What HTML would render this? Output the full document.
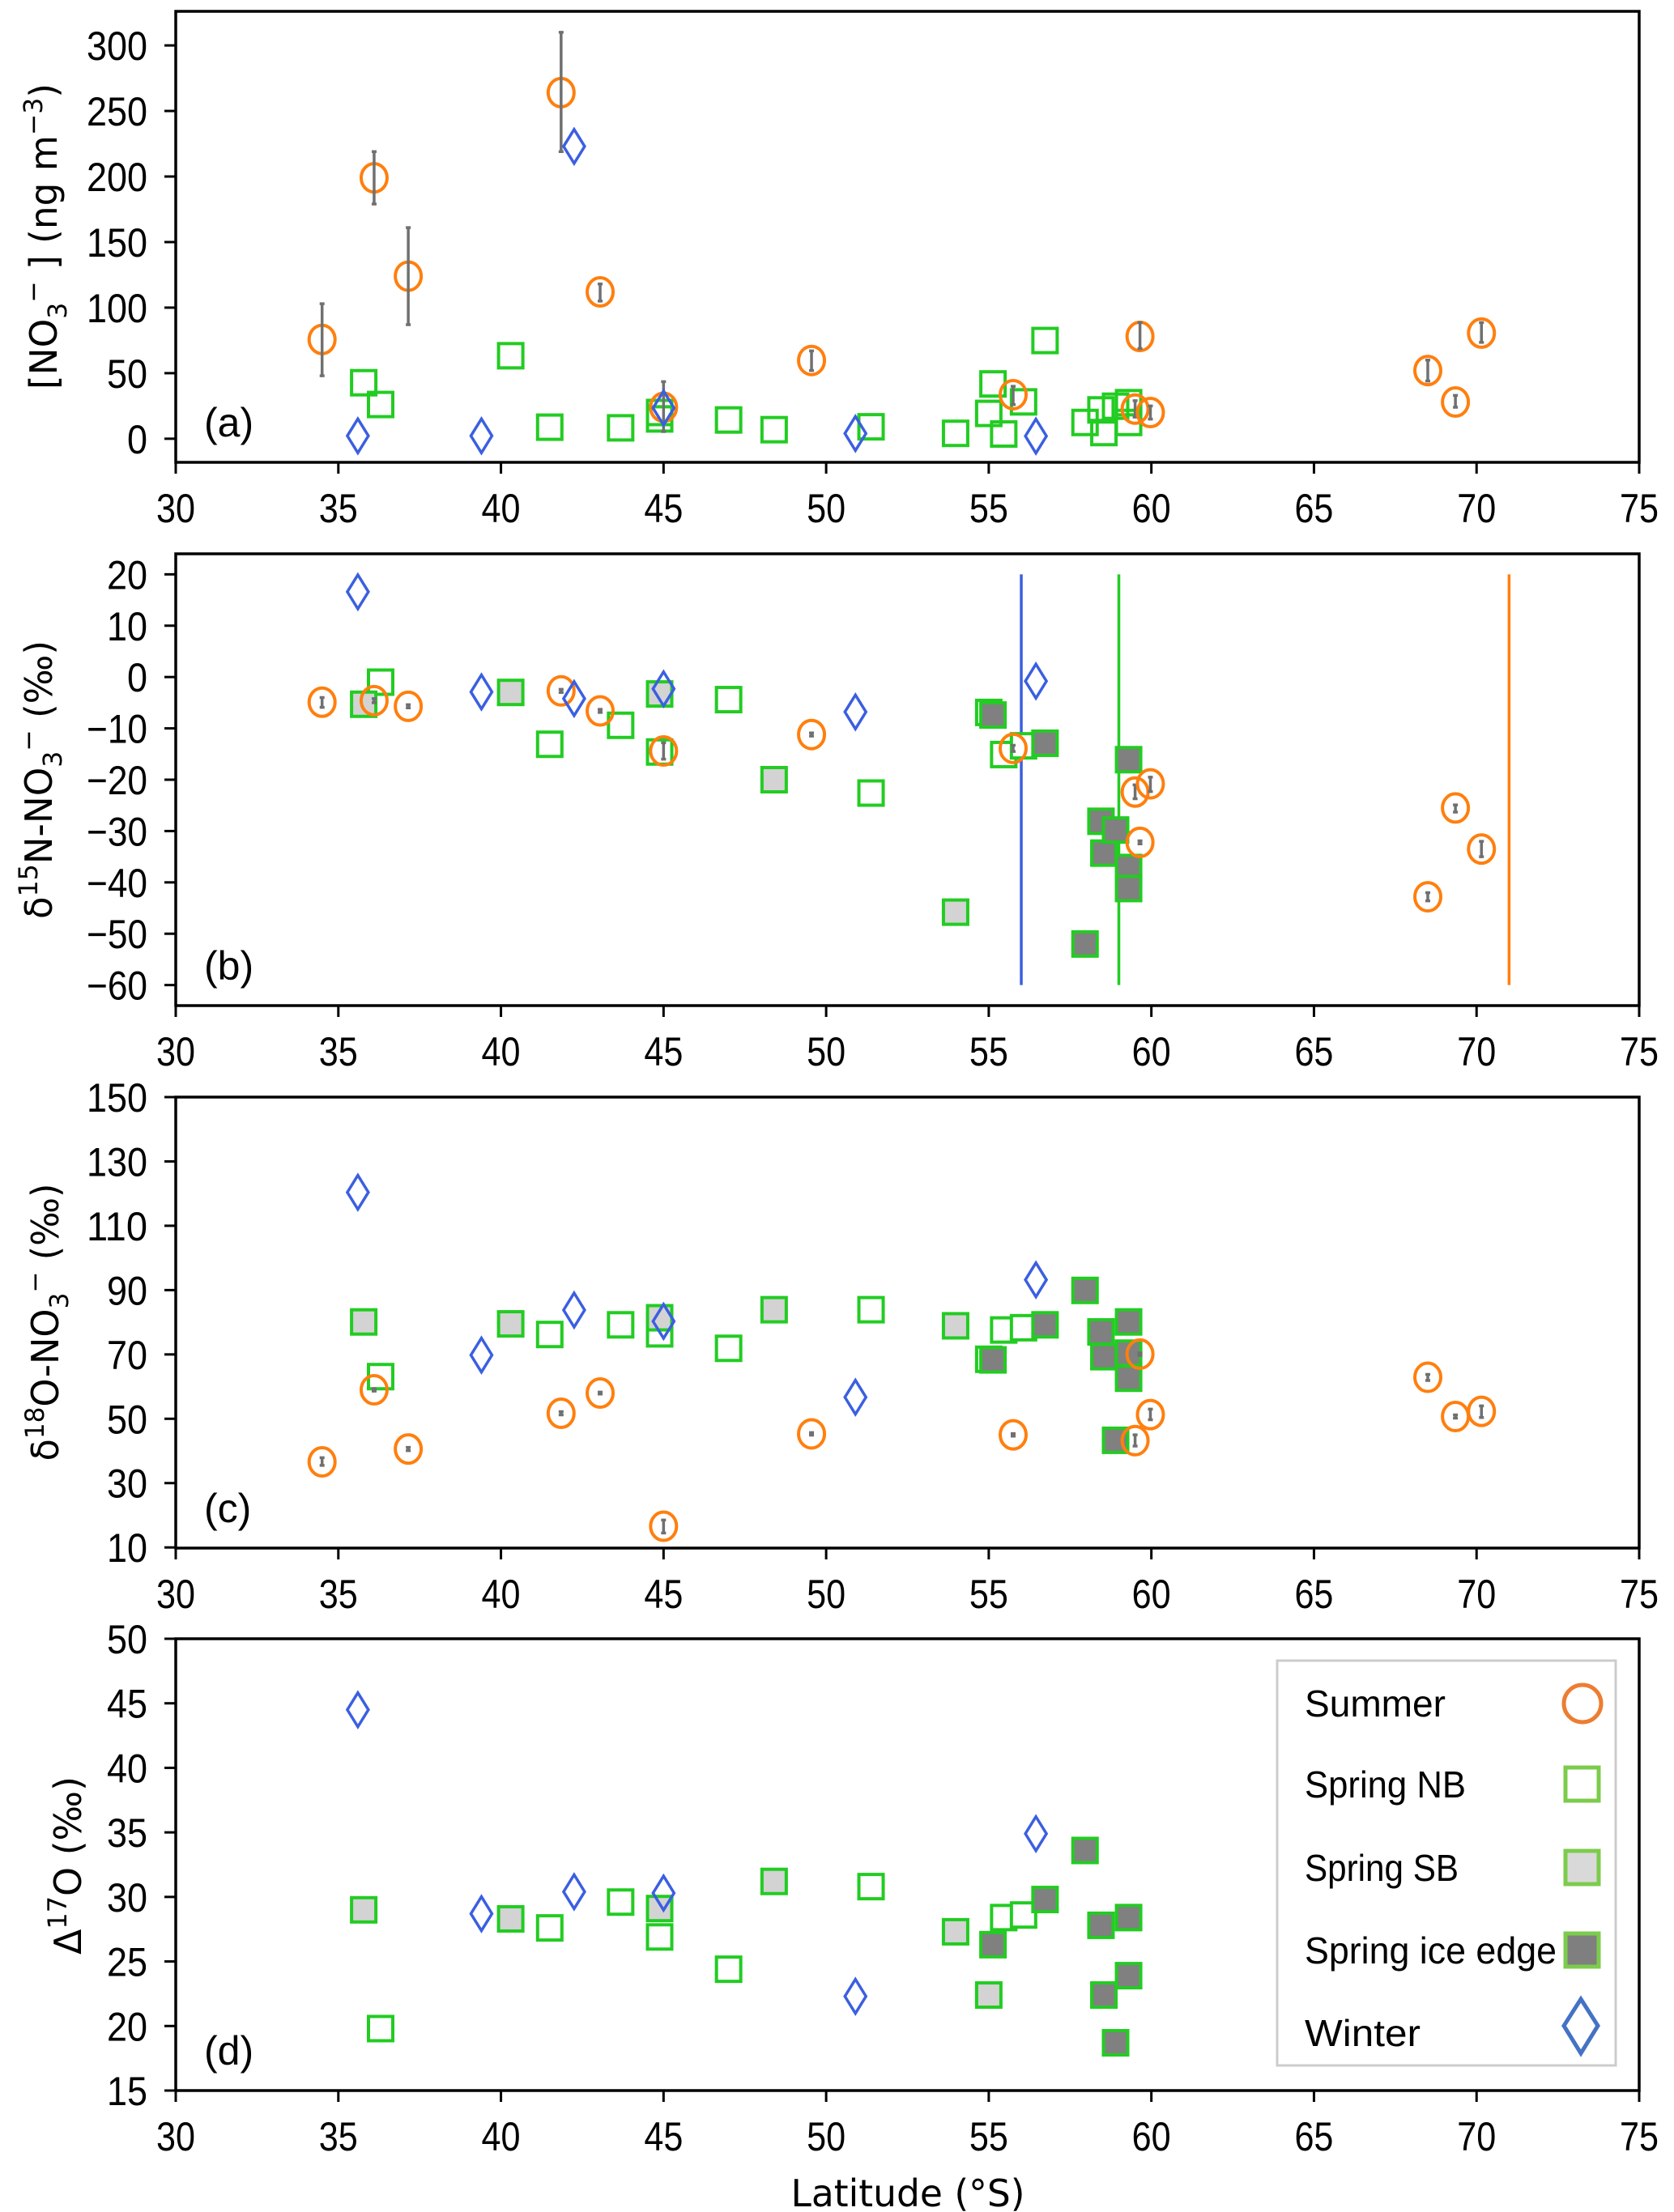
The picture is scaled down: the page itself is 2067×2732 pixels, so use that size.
<!DOCTYPE html>
<html><head><meta charset="utf-8"><style>
html,body{margin:0;padding:0;background:#fff}
svg{display:block}
.tk{font-family:"Liberation Sans Narrow","Liberation Sans",sans-serif;font-size:50px;fill:#000}
.al{font-family:"DejaVu Sans","Liberation Sans",sans-serif;font-size:46px;fill:#000}
.lg{font-family:"Liberation Sans Narrow","Liberation Sans",sans-serif;font-size:46px;fill:#000}
</style></head><body>
<svg id="fig" width="2067" height="2732" viewBox="0 0 2067 2732" xmlns="http://www.w3.org/2000/svg">
<g id="axes-layer"></g>
<text class="al" transform="translate(70,292) rotate(-90)" text-anchor="middle" textLength="378" lengthAdjust="spacingAndGlyphs">[NO<tspan font-size="32" dy="12">3</tspan><tspan font-size="32" dy="-30">−</tspan><tspan dy="18"> ] (ng m</tspan><tspan font-size="32" dy="-18">−3</tspan><tspan dy="18">)</tspan></text>
<text class="al" transform="translate(64,963) rotate(-90)" text-anchor="middle" textLength="344" lengthAdjust="spacingAndGlyphs">δ<tspan font-size="32" dy="-18">15</tspan><tspan dy="18">N-NO</tspan><tspan font-size="32" dy="12">3</tspan><tspan font-size="32" dy="-30">−</tspan><tspan dy="18"> (‰)</tspan></text>
<text class="al" transform="translate(72,1633) rotate(-90)" text-anchor="middle" textLength="343" lengthAdjust="spacingAndGlyphs">δ<tspan font-size="32" dy="-18">18</tspan><tspan dy="18">O-NO</tspan><tspan font-size="32" dy="12">3</tspan><tspan font-size="32" dy="-30">−</tspan><tspan dy="18"> (‰)</tspan></text>
<text class="al" transform="translate(100,2304) rotate(-90)" text-anchor="middle" textLength="220" lengthAdjust="spacingAndGlyphs">Δ<tspan font-size="32" dy="-18">17</tspan><tspan dy="18">O (‰)</tspan></text>
<text class="tk" x="1121" y="2725" text-anchor="middle" style="font-family:'DejaVu Sans','Liberation Sans',sans-serif;font-size:46px" textLength="289" lengthAdjust="spacingAndGlyphs">Latitude (°S)</text>
<g>
<rect x="1577" y="2051" width="418" height="500" fill="#fff" stroke="#cccccc" stroke-width="3"/>
<text class="lg" x="1611" y="2120" textLength="174" lengthAdjust="spacingAndGlyphs">Summer</text>
<ellipse cx="1954" cy="2104" rx="23" ry="23" fill="none" stroke="#ed7d31" stroke-width="5"/>
<text class="lg" x="1611" y="2220" textLength="199" lengthAdjust="spacingAndGlyphs">Spring NB</text>
<rect x="1933" y="2183" width="41" height="41" fill="#fff" stroke="#7ccc4c" stroke-width="5"/>
<text class="lg" x="1611" y="2323" textLength="190" lengthAdjust="spacingAndGlyphs">Spring SB</text>
<rect x="1933" y="2286" width="41" height="41" fill="#d9d9d9" stroke="#7ccc4c" stroke-width="5"/>
<text class="lg" x="1611" y="2425" textLength="311" lengthAdjust="spacingAndGlyphs">Spring ice edge</text>
<rect x="1933" y="2388" width="41" height="41" fill="#7f7f7f" stroke="#7ccc4c" stroke-width="5"/>
<text class="lg" x="1611" y="2527" textLength="143" lengthAdjust="spacingAndGlyphs">Winter</text>
<polygon points="1952,2469 1973,2502 1952,2536 1931,2502" fill="none" stroke="#4472c4" stroke-width="5"/>
</g>
</svg>
<script>
// ---------- data ----------
const xTicks = [30,35,40,45,50,55,60,65,70,75];
const ticksA = [0,50,100,150,200,250,300];
const ticksB = [20,10,0,-10,-20,-30,-40,-50,-60];
const ticksC = [10,30,50,70,90,110,130,150];
const ticksD = [15,20,25,30,35,40,45,50];

const sumLat = [34.5,36.1,37.15,41.85,43.05,45.0,49.55,55.75,59.5,59.65,59.97,68.5,69.35,70.15];
const sumA = [75.7,199,124,264,112,24,59.7,33.6,22.6,78,20,52,28,80.6];
const sumAlo = [48,179,87,219,105,5.5,52,26,16.5,68.8,15,44,24,73.5];
const sumAhi = [103,219,161,310,118,43.5,67,40,29,88.6,25,60,33,88.6];
const sumB = [-4.9,-4.6,-5.7,-2.7,-6.6,-14.4,-11.2,-13.9,-22.4,-32.2,-20.8,-42.8,-25.5,-33.5];
const sumBlo = [-5.9,-5.0,-6.0,-3.0,-6.9,-16,-11.5,-14.5,-23.7,-32.5,-22.3,-43.6,-26.3,-35];
const sumBhi = [-4.0,-4.2,-5.4,-2.4,-6.3,-12.8,-10.9,-13.3,-21,-31.9,-19.5,-42,-24.9,-32];
const sumC = [36.6,59.0,40.6,51.7,58.0,16.6,45.3,45.0,43.2,70.1,51.3,62.9,50.7,52.3];
const sumClo = [35.5,58.6,40.1,51.2,57.7,14.5,44.9,44.6,41.5,69.7,49.7,61.9,50.2,50.4];
const sumChi = [37.9,59.4,41.1,52.2,58.3,18.5,45.7,45.4,45,70.5,53,63.8,51.2,54];

const winLat = [35.6,39.4,42.25,45.0,50.9,56.45];
const winA = [2.2,2.2,223,23.4,4,2];
const winB = [16.6,-2.9,-4.2,-2.3,-6.8,-0.8];
const winC = [120.4,69.8,83.8,80.3,56.7,93.2];
const winD = [44.5,28.7,30.4,30.3,22.3,34.9];

const sprALat = [35.78,36.3,40.3,41.5,43.68,44.88,44.88,47.0,48.4,51.38,53.98,55.13,55.0,55.46,56.07,56.73,57.96,58.45,58.54,58.9,59.3,59.3];
const sprA = [42.7,26.1,63.3,8.8,8.3,15.1,20,14.3,6.9,9.1,4.1,41.8,19.3,3.6,28.1,74.9,12.4,22.0,4.7,24.8,27.5,12.4];

const nbLatB = [36.3,41.5,43.68,44.88,47.0,51.38,55.0,55.46,56.07];
const nbB = [-1.0,-13.1,-9.4,-14.6,-4.4,-22.6,-6.9,-15.1,-13.4];
const sbLatB = [35.78,40.3,44.88,48.4,53.98];
const sbB = [-5.3,-3.0,-3.3,-20.0,-45.8];
const iceLatB = [55.13,56.73,57.96,58.45,58.54,58.9,59.3,59.3,59.3];
const iceB = [-7.4,-12.9,-52.0,-28.1,-34.3,-29.8,-16.1,-37.1,-41.2];

const nbLatC = [36.3,41.5,43.68,44.88,47.0,51.38,55.0,55.46,56.07];
const nbC = [63.1,76.2,79.2,76.4,71.9,83.9,68.5,77.6,78.3];
const sbLatC = [35.78,40.3,44.88,48.4,53.98];
const sbC = [80.1,79.5,81.4,83.9,78.9];
const iceLatC = [55.13,56.73,57.96,58.45,58.54,59.3,59.3,59.3,58.9];
const iceC = [68.3,79.2,89.9,77.0,69.3,80.1,70.4,62.6,43.3];

const nbLatD = [36.3,41.5,43.68,44.88,47.0,51.38,55.46,56.07];
const nbD = [19.8,27.6,29.6,26.9,24.4,30.8,28.4,28.6];
const sbLatD = [35.78,40.3,44.88,48.4,53.98,55.0];
const sbD = [29.0,28.3,29.1,31.2,27.3,22.4];
const iceLatD = [55.13,56.73,57.96,58.45,58.54,58.9,59.3,59.3];
const iceD = [26.3,29.8,33.6,27.8,22.4,18.7,28.4,23.9];

const vlineLat = [56,59,71];
const vlineFrom = 20, vlineTo = -60;

// ---------- drawing ----------
const NS = 'http://www.w3.org/2000/svg';
const layer = document.getElementById('axes-layer');
const X0 = 217, X1 = 2024, XMIN = 30, XMAX = 75;
const xs = v => X0 + (v - XMIN) / (XMAX - XMIN) * (X1 - X0);
const C_OR = '#ff7f0e', C_GR = '#22cc22', C_BL = '#3b5fe0';

function mk(tag, attrs, parent) {
  const e = document.createElementNS(NS, tag);
  for (const k in attrs) e.setAttribute(k, attrs[k]);
  (parent || layer).appendChild(e);
  return e;
}

function panel(id, top, bot, ymin, ymax, yticks, label) {
  const ys = v => bot - (v - ymin) / (ymax - ymin) * (bot - top);
  const g = mk('g', {});
  
  
  const frame = mk('rect', {x: X0, y: top, width: X1 - X0, height: bot - top, fill: 'none', stroke: '#000', 'stroke-width': 3.5}, g);
  
  
  xTicks.forEach(t => {
    const x = xs(t);
    const l = mk('line', {x1: x, x2: x, y1: bot, y2: bot + 14, stroke: '#000', 'stroke-width': 3}, g);
    
    
    const s = String(t);
    const tx = mk('text', {x: x, y: bot + 74, 'text-anchor': 'middle', class: 'tk', textLength: 24 * s.length, lengthAdjust: 'spacingAndGlyphs'}, g);
    tx.textContent = s;
    
    
  });
  yticks.forEach(t => {
    const y = ys(t);
    const l = mk('line', {x1: X0 - 14, x2: X0, y1: y, y2: y, stroke: '#000', 'stroke-width': 3}, g);
    
    
    const s = t < 0 ? '\u2212' + (-t) : String(t);
    const tx = mk('text', {x: X0 - 35, y: y + 18, 'text-anchor': 'end', class: 'tk', textLength: 25 * s.length, lengthAdjust: 'spacingAndGlyphs'}, g);
    tx.textContent = s;
    
    
  });
  const pl = mk('text', {x: 252, y: bot - 32, class: 'tk'}, g);
  pl.textContent = label;
  
  
  return {g, ys};
}

function squares(p, lats, vals, fill, name) {
  lats.forEach((la, i) => {
    const r = mk('rect', {x: xs(la) - 15, y: p.ys(vals[i]) - 15, width: 30, height: 30, fill: fill, stroke: C_GR, 'stroke-width': 4}, p.g);
    
    
  });
}
function diamonds(p, lats, vals) {
  lats.forEach((la, i) => {
    const x = xs(la), y = p.ys(vals[i]);
    const d = mk('polygon', {points: `${x},${y-21} ${x+13},${y} ${x},${y+21} ${x-13},${y}`, fill: 'none', stroke: C_BL, 'stroke-width': 3.5}, p.g);
    
    
  });
}
function circles(p, lats, vals, lo, hi) {
  lats.forEach((la, i) => {
    const x = xs(la), y = p.ys(vals[i]);
    const c = mk('ellipse', {cx: x, cy: y, rx: 16, ry: 17.5, fill: 'none', stroke: C_OR, 'stroke-width': 4}, p.g);
    
    
    const y1 = p.ys(hi[i]), y2 = p.ys(lo[i]);
    const e = mk('path', {d: `M${x},${y1}V${y2}M${x-3},${y1}H${x+3}M${x-3},${y2}H${x+3}`, stroke: '#707070', 'stroke-width': 3.5, fill: 'none'}, p.g);
    
    
  });
}

// panel a
const pa = panel('a', 14, 571, -18, 326, ticksA, '(a)');
squares(pa, sprALat, sprA, 'none', 'spring-point');
circles(pa, sumLat, sumA, sumAlo, sumAhi);
diamonds(pa, winLat, winA);

// panel b
const pb = panel('b', 684, 1242, -64, 24, ticksB, '(b)');
const vcols = [C_BL, C_GR, C_OR];
vlineLat.forEach((la, i) => {
  const l = mk('line', {x1: xs(la), x2: xs(la), y1: pb.ys(vlineFrom), y2: pb.ys(vlineTo), stroke: vcols[i], 'stroke-width': 3.5}, pb.g);
  
  
});
squares(pb, nbLatB, nbB, '#fff', 'spring-nb-point');
squares(pb, sbLatB, sbB, '#d3d3d3', 'spring-sb-point');
squares(pb, iceLatB, iceB, '#808080', 'spring-ice-edge-point');
circles(pb, sumLat, sumB, sumBlo, sumBhi);
diamonds(pb, winLat, winB);

// panel c
const pc = panel('c', 1355, 1912, 9.8, 150, ticksC, '(c)');
squares(pc, nbLatC, nbC, '#fff', 'spring-nb-point');
squares(pc, sbLatC, sbC, '#d3d3d3', 'spring-sb-point');
squares(pc, iceLatC, iceC, '#808080', 'spring-ice-edge-point');
circles(pc, sumLat, sumC, sumClo, sumChi);
diamonds(pc, winLat, winC);

// panel d
const pd = panel('d', 2024, 2582, 15, 50, ticksD, '(d)');
squares(pd, nbLatD, nbD, '#fff', 'spring-nb-point');
squares(pd, sbLatD, sbD, '#d3d3d3', 'spring-sb-point');
squares(pd, iceLatD, iceD, '#808080', 'spring-ice-edge-point');
diamonds(pd, winLat, winD);
</script>
</body></html>
